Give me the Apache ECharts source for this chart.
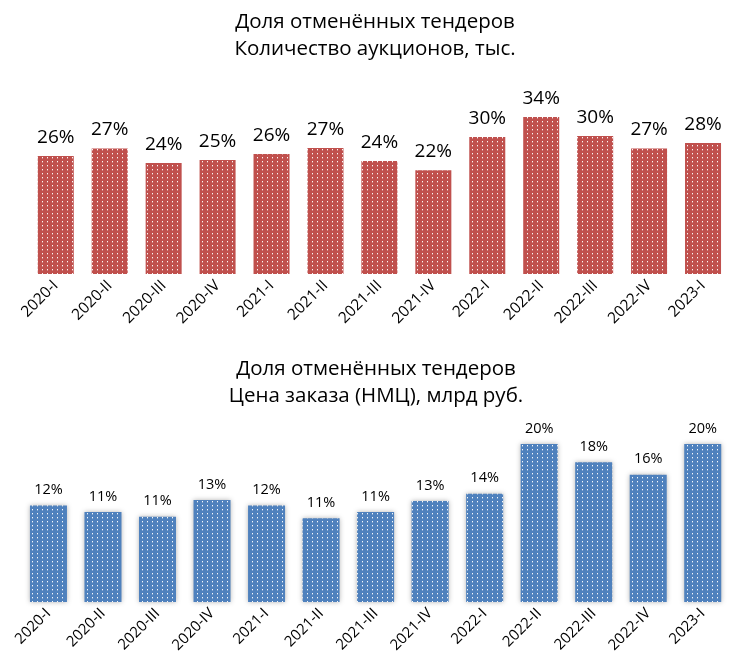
<!DOCTYPE html>
<html>
<head>
<meta charset="utf-8">
<script src="https://cdn.jsdelivr.net/npm/echarts@6/dist/echarts.min.js"></script>
<style>
html,body{margin:0;padding:0;background:#fff;}
#chart{width:730px;height:667px;}
</style>
</head>
<body>
<div id="chart"></div>
<script>
var categories = ['2020-I','2020-II','2020-III','2020-IV','2021-I','2021-II','2021-III','2021-IV','2022-I','2022-II','2022-III','2022-IV','2023-I'];
var countShare = [25.5, 27.1, 24.0, 24.6, 25.9, 27.2, 24.4, 22.4, 29.6, 33.9, 29.8, 27.1, 28.3];
var priceShare = [12.2, 11.4, 10.8, 12.9, 12.2, 10.6, 11.4, 12.8, 13.7, 20.0, 17.7, 16.1, 20.0];
var title1 = 'Доля отменённых тендеров\nКоличество аукционов, тыс.';
var title2 = 'Доля отменённых тендеров\nЦена заказа (НМЦ), млрд руб.';

function makePattern(base) {
  var c = document.createElement('canvas');
  c.width = 5; c.height = 4;
  var ctx = c.getContext('2d');
  ctx.fillStyle = base;
  ctx.fillRect(0, 0, 5, 4);
  ctx.fillStyle = 'rgba(255,255,255,0.95)';
  ctx.fillRect(2, 1, 1, 1);
  ctx.fillStyle = 'rgba(255,255,255,0.35)';
  ctx.fillRect(2, 2, 1, 1);
  return { image: c, repeat: 'repeat' };
}

var FONT = 'Open Sans';
var chart = echarts.init(document.getElementById('chart'), null, {renderer: 'canvas'});
chart.setOption({
  backgroundColor: '#fff',
  animation: false,
  textStyle: { fontFamily: FONT },
  title: [
    { text: title1, left: 370, top: 4, textAlign: 'center',
      textStyle: { fontFamily: FONT, fontSize: 20.5, fontWeight: 'normal', color: '#000', lineHeight: 27 } },
    { text: title2, left: 371, top: 351, textAlign: 'center',
      textStyle: { fontFamily: FONT, fontSize: 20.5, fontWeight: 'normal', color: '#000', lineHeight: 27 } }
  ],
  grid: [
    { left: 28.8, top: 88.8, width: 707, height: 185.2, containLabel: false },
    { left: 21.2, top: 404.5, width: 710, height: 197.5, containLabel: false }
  ],
  xAxis: [
    { type: 'category', gridIndex: 0, data: categories,
      axisLine: { show: false }, axisTick: { show: false },
      axisLabel: { rotate: 45, interval: 0, margin: 9, fontSize: 15.5, color: '#000', fontFamily: FONT } },
    { type: 'category', gridIndex: 1, data: categories,
      axisLine: { show: false }, axisTick: { show: false },
      axisLabel: { rotate: 45, interval: 0, margin: 9, fontSize: 15, color: '#000', fontFamily: FONT } }
  ],
  yAxis: [
    { type: 'value', gridIndex: 0, min: 0, max: 40, show: false, splitLine: { show: false } },
    { type: 'value', gridIndex: 1, min: 0, max: 25, show: false, splitLine: { show: false } }
  ],
  series: [
    { type: 'bar', xAxisIndex: 0, yAxisIndex: 0, data: countShare, barWidth: 36,
      itemStyle: { color: makePattern('#C0504D') },
      label: { show: true, position: 'top', distance: 9, fontSize: 19, color: '#000', fontFamily: FONT,
        formatter: function (p) { return Math.round(p.value) + '%'; } } },
    { type: 'bar', xAxisIndex: 1, yAxisIndex: 1, data: priceShare, barWidth: 37,
      itemStyle: { color: makePattern('#4F81BD'), shadowBlur: 5, shadowColor: 'rgba(0,0,0,0.3)' },
      label: { show: true, position: 'top', distance: 8, fontSize: 14.5, color: '#000', fontFamily: FONT,
        formatter: function (p) { return Math.round(p.value) + '%'; } } }
  ]
});
</script>
</body>
</html>
